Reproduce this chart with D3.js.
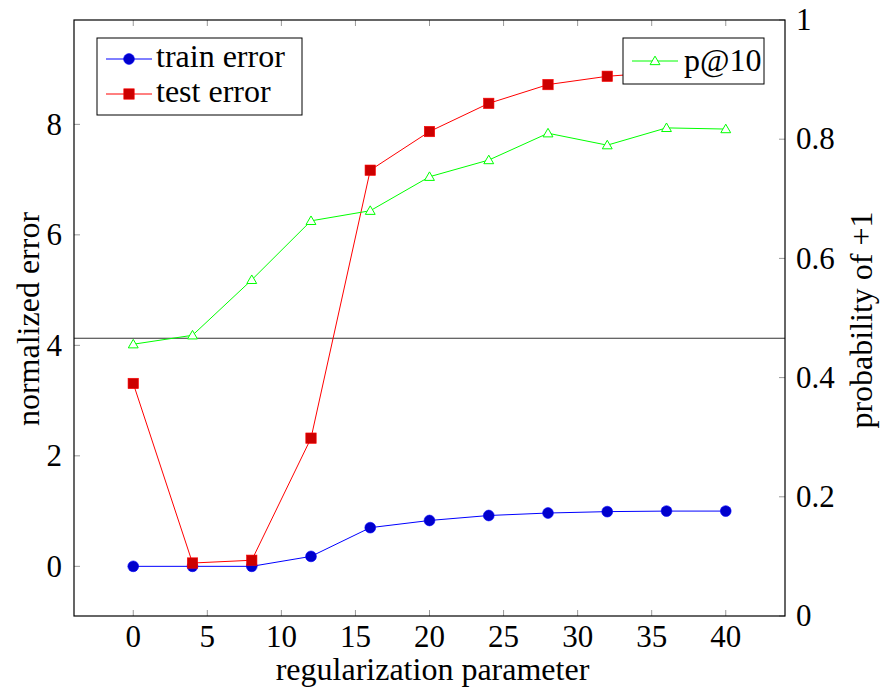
<!DOCTYPE html>
<html>
<head>
<meta charset="utf-8">
<script src="https://cdn.jsdelivr.net/npm/d3@7"></script>
<style>
  body { margin: 0; background: #fff; }
  text { font-family: "Liberation Serif", "DejaVu Serif", serif; fill: #000; }
</style>
</head>
<body>
<div id="chart"></div>
<script>
const WIDTH = 880, HEIGHT = 690;
const margin = {top: 20, right: 95, bottom: 74, left: 74};

// data
const params = [0, 4, 8, 12, 16, 20, 24, 28, 32, 36, 40];
const trainError = [0, 0, 0, 0.18, 0.70, 0.83, 0.92, 0.965, 0.99, 1.0, 1.0];
const testError = [3.31, 0.06, 0.11, 2.32, 7.17, 7.87, 8.38, 8.72, 8.87, 8.95, 8.99];
const precisionAt10 = [0.456, 0.471, 0.564, 0.663, 0.680, 0.737, 0.765, 0.810, 0.790, 0.819, 0.817];
const baseRate = 0.466;
const xTicks = [0, 5, 10, 15, 20, 25, 30, 35, 40];
const yLeftTicks = [0, 2, 4, 6, 8];
const yRightTicks = [0, 0.2, 0.4, 0.6, 0.8, 1];

const width = WIDTH - margin.left - margin.right;
const height = HEIGHT - margin.top - margin.bottom;
const FS = 31, LFS = 32;

const svg = d3.select("#chart").append("svg")
    .attr("width", WIDTH).attr("height", HEIGHT);
const g = svg.append("g")
    .attr("transform", `translate(${margin.left},${margin.top})`);

const x = d3.scaleLinear().domain([-4, 44]).range([0, width]);
const yL = d3.scaleLinear().domain([-0.899, 9.889]).range([height, 0]);
const yR = d3.scaleLinear().domain([0, 1]).range([height, 0]);

// tick marks (inside, grey)
const tickLen = 6;
const ticks = g.append("g").attr("stroke", "#999").attr("stroke-width", 1);
xTicks.forEach(t => {
  ticks.append("line").attr("x1", x(t)).attr("x2", x(t)).attr("y1", height).attr("y2", height - tickLen);
  ticks.append("line").attr("x1", x(t)).attr("x2", x(t)).attr("y1", 0).attr("y2", tickLen);
});
yLeftTicks.forEach(t => {
  ticks.append("line").attr("x1", 0).attr("x2", tickLen).attr("y1", yL(t)).attr("y2", yL(t));
});
yRightTicks.forEach(t => {
  ticks.append("line").attr("x1", width).attr("x2", width - tickLen).attr("y1", yR(t)).attr("y2", yR(t));
});

// tick labels
g.append("g").selectAll("text").data(xTicks).enter().append("text")
    .attr("x", d => x(d)).attr("y", height + 31)
    .attr("text-anchor", "middle").style("font-size", FS + "px")
    .text(d => d);
g.append("g").selectAll("text").data(yLeftTicks).enter().append("text")
    .attr("x", -12).attr("y", d => yL(d)).attr("dy", "0.33em")
    .attr("text-anchor", "end").style("font-size", FS + "px")
    .text(d => d);
g.append("g").selectAll("text").data(yRightTicks).enter().append("text")
    .attr("x", width + 11).attr("y", d => yR(d)).attr("dy", "0.33em")
    .attr("text-anchor", "start").style("font-size", FS + "px")
    .text(d => d3.format("~g")(d));

// axis labels
g.append("text")
    .attr("x", width / 2 + 3).attr("y", height + 64)
    .attr("text-anchor", "middle").style("font-size", LFS + "px")
    .text("regularization parameter");
g.append("text")
    .attr("transform", `translate(-35,${height / 2 + 1}) rotate(-90)`)
    .attr("text-anchor", "middle").style("font-size", LFS + "px")
    .text("normalized error");
g.append("text")
    .attr("transform", `translate(${width + 87},${height / 2 + 2}) rotate(-90)`)
    .attr("text-anchor", "middle").style("font-size", LFS + "px")
    .text("probability of +1");

// base rate line
g.append("line")
    .attr("x1", 0).attr("x2", width)
    .attr("y1", yR(baseRate)).attr("y2", yR(baseRate))
    .attr("stroke", "#333").attr("stroke-width", 1.2);

// train error
const lineL = d3.line().x((d, i) => x(params[i])).y(d => yL(d));
g.append("path").datum(trainError)
    .attr("d", lineL).attr("fill", "none")
    .attr("stroke", "#0000ff").attr("stroke-width", 1);
g.append("g").selectAll("circle").data(trainError).enter().append("circle")
    .attr("cx", (d, i) => x(params[i])).attr("cy", d => yL(d))
    .attr("r", 5.4).attr("fill", "#0000cc").attr("stroke", "#0000ff").attr("stroke-width", 0.6);

// test error
g.append("path").datum(testError)
    .attr("d", lineL).attr("fill", "none")
    .attr("stroke", "#ff0000").attr("stroke-width", 1);
g.append("g").selectAll("rect").data(testError).enter().append("rect")
    .attr("x", (d, i) => x(params[i]) - 5.2).attr("y", d => yL(d) - 5.2)
    .attr("width", 10.4).attr("height", 10.4)
    .attr("fill", "#cc0000").attr("stroke", "#ff0000").attr("stroke-width", 0.6);

// p@10
const lineP = d3.line().x((d, i) => x(params[i])).y(d => yR(d));
g.append("path").datum(precisionAt10)
    .attr("d", lineP).attr("fill", "none")
    .attr("stroke", "#00ff00").attr("stroke-width", 1);
const tri = d3.symbol().type(d3.symbolTriangle).size(42);
g.append("g").selectAll("path").data(precisionAt10).enter().append("path")
    .attr("d", tri)
    .attr("transform", (d, i) => `translate(${x(params[i])},${yR(d) + 0.8})`)
    .attr("fill", "#fff").attr("stroke", "#00ff00").attr("stroke-width", 1);

// frame
g.append("rect").attr("width", width).attr("height", height)
    .attr("fill", "none").attr("stroke", "#000").attr("stroke-width", 1.2);

// legend left
const leg1 = svg.append("g").attr("transform", "translate(97,38)");
leg1.append("rect").attr("width", 205).attr("height", 77)
    .attr("fill", "#fff").attr("stroke", "#000").attr("stroke-width", 1);
leg1.append("line").attr("x1", 9).attr("x2", 55).attr("y1", 21).attr("y2", 21).attr("stroke", "#0000ff");
leg1.append("circle").attr("cx", 32).attr("cy", 21).attr("r", 5.4).attr("fill", "#0000cc").attr("stroke", "#0000ff").attr("stroke-width", 0.6);
leg1.append("text").attr("x", 59).attr("y", 21).attr("dy", "0.25em").style("font-size", LFS + "px").text("train error");
leg1.append("line").attr("x1", 9).attr("x2", 55).attr("y1", 56).attr("y2", 56).attr("stroke", "#ff0000");
leg1.append("rect").attr("x", 26.8).attr("y", 50.8).attr("width", 10.4).attr("height", 10.4).attr("fill", "#cc0000").attr("stroke", "#ff0000").attr("stroke-width", 0.6);
leg1.append("text").attr("x", 59).attr("y", 56).attr("dy", "0.25em").style("font-size", LFS + "px").text("test error");

// legend right
const leg2 = svg.append("g").attr("transform", "translate(623,38)");
leg2.append("rect").attr("width", 141).attr("height", 46)
    .attr("fill", "#fff").attr("stroke", "#000").attr("stroke-width", 1);
leg2.append("line").attr("x1", 9).attr("x2", 55).attr("y1", 23).attr("y2", 23).attr("stroke", "#00ff00");
leg2.append("path").attr("d", tri).attr("transform", "translate(32,23.8)")
    .attr("fill", "#fff").attr("stroke", "#00ff00").attr("stroke-width", 1);
leg2.append("text").attr("x", 61).attr("y", 23).attr("dy", "0.3em").style("font-size", LFS + "px").text("p@10");
</script>
</body>
</html>
